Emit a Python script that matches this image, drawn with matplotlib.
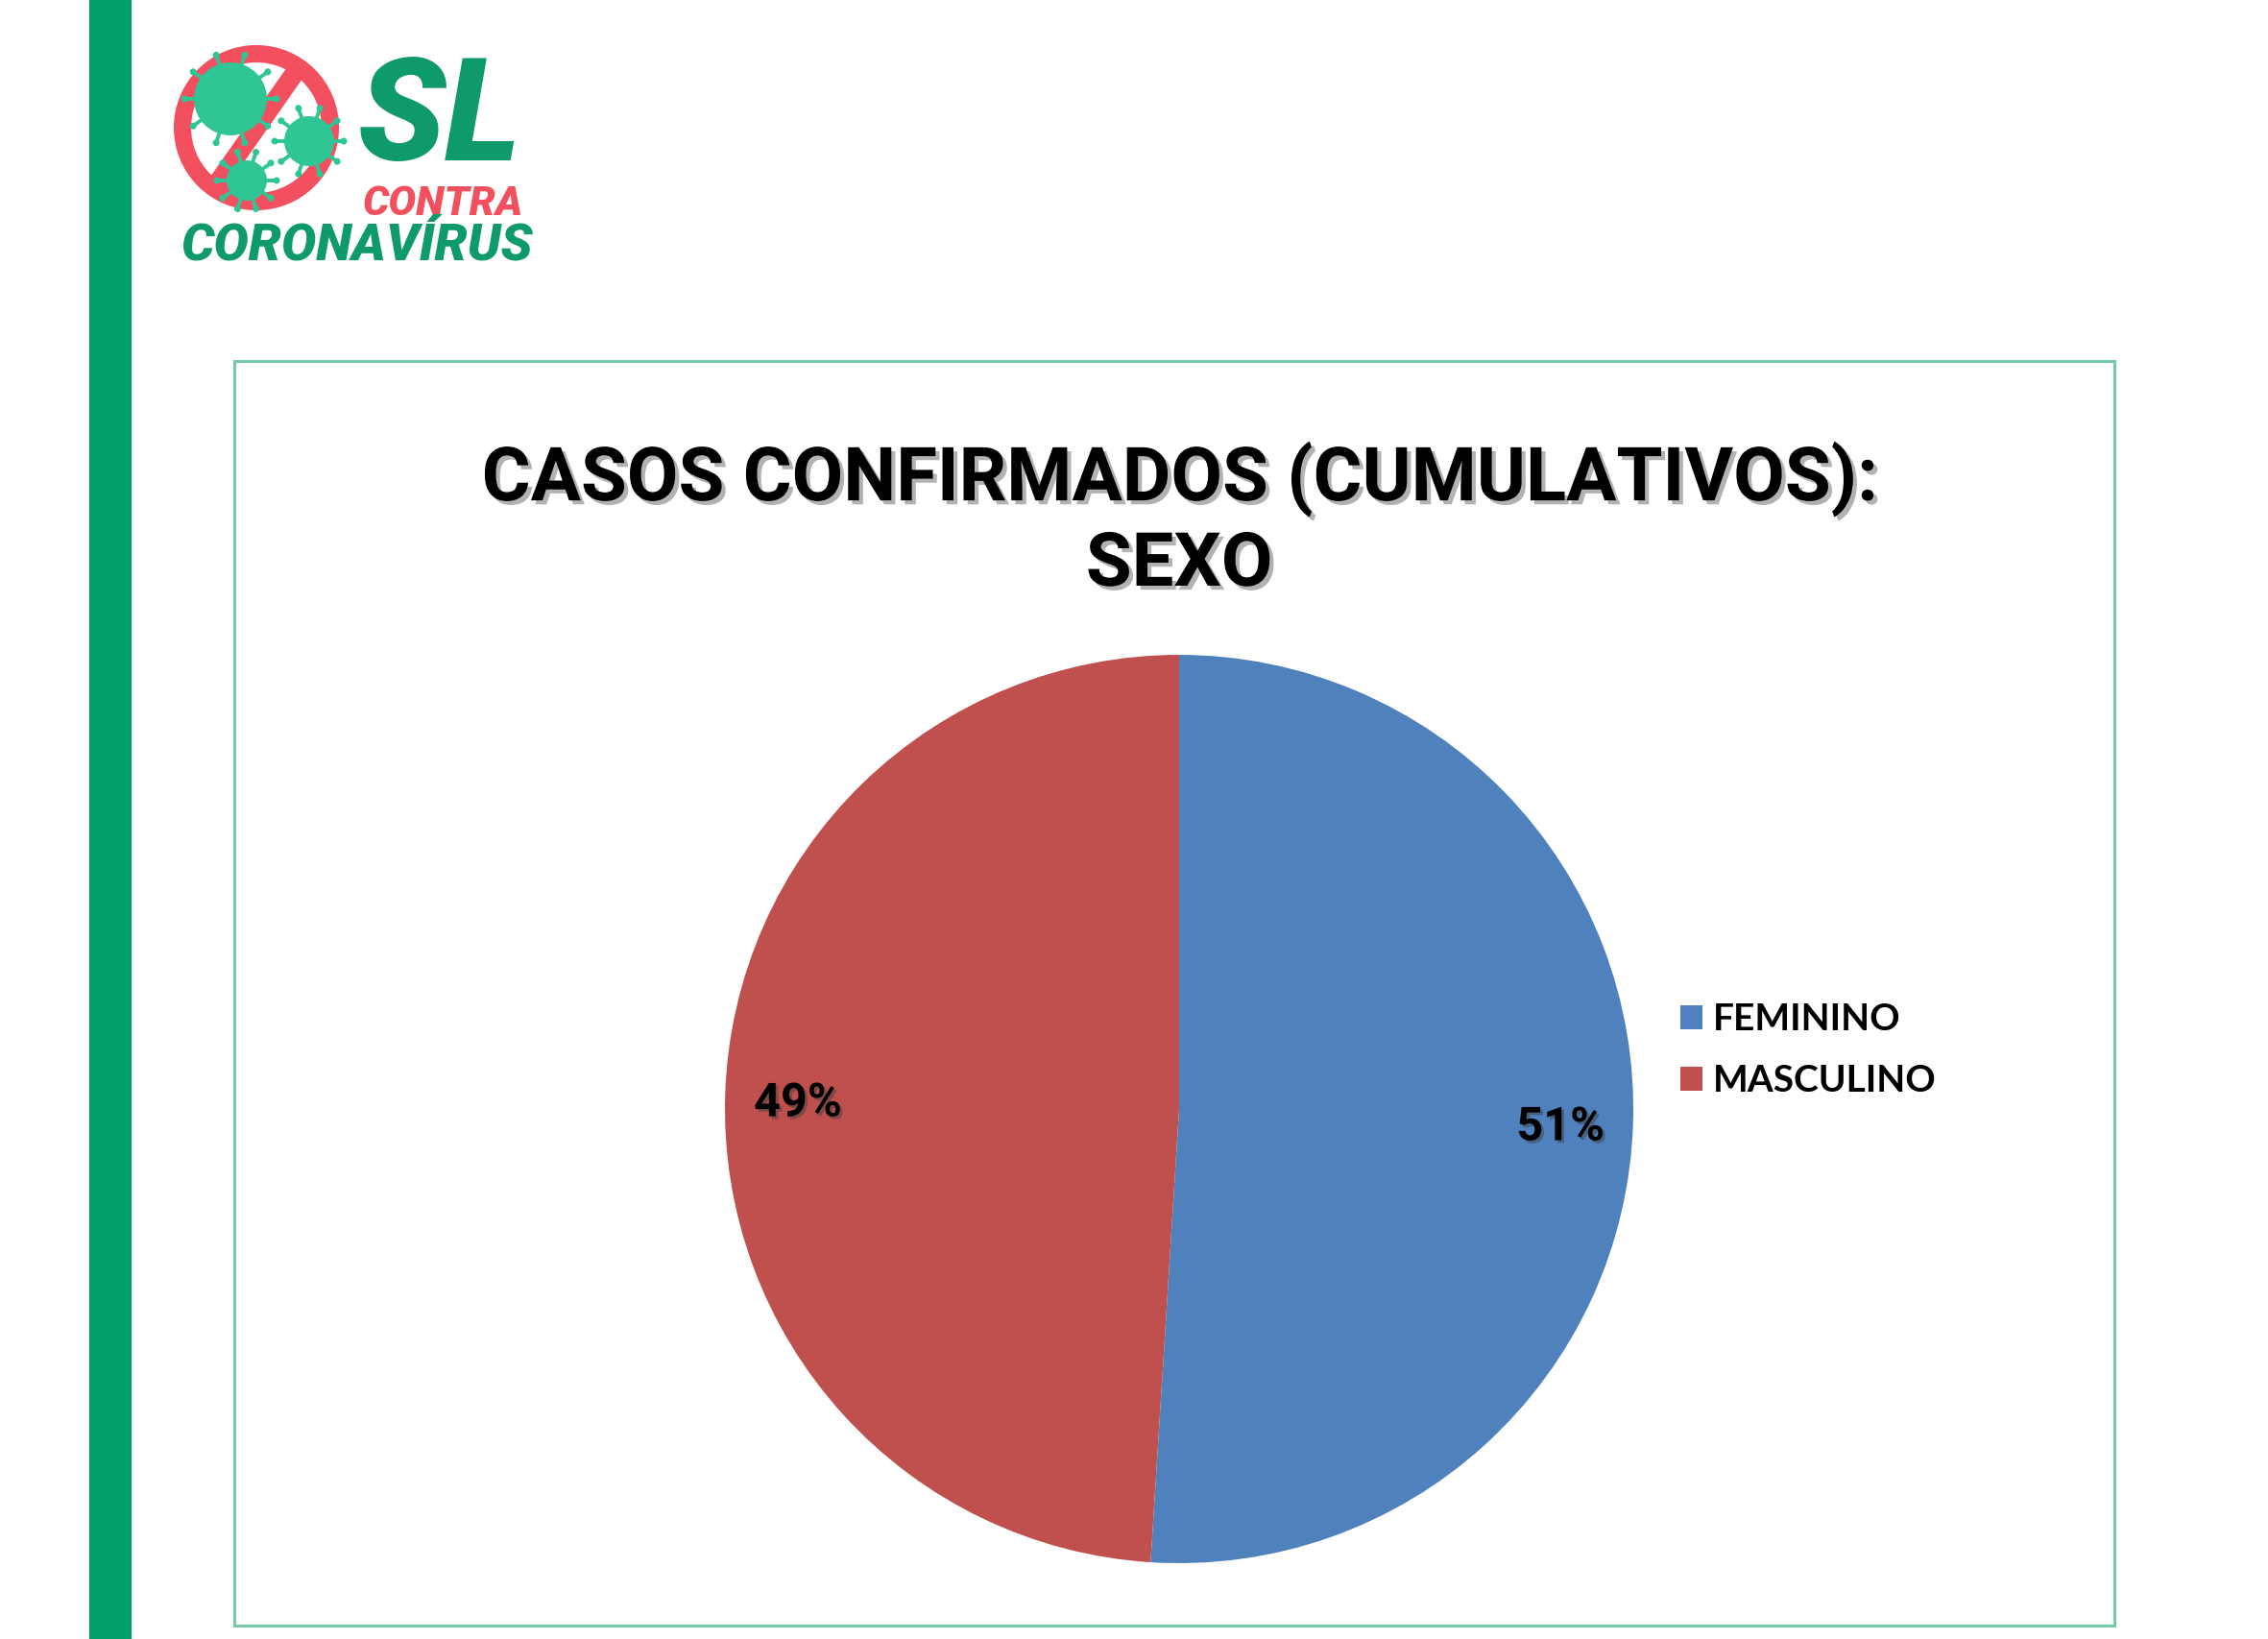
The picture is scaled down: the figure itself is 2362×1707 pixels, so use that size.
import numpy as np
import matplotlib
matplotlib.use("Agg")
import matplotlib.pyplot as plt
import matplotlib.patheffects as pe
import matplotlib.transforms as mtransforms
from matplotlib import font_manager
from matplotlib.patches import Circle, Rectangle, Polygon

# ── Données ───────────────────────────────────────────────────────────────────
categorias = ["FEMININO", "MASCULINO"]
percentuais = [51, 49]
cores = ["#4F81BD", "#C0504D"]
titulo_l1 = "CASOS CONFIRMADOS (CUMULATIVOS):"
titulo_l2 = "SEXO"

W, H = 2362, 1707
VERDE = "#009E6B"

# police étroite si disponible
dispo = {f.name for f in font_manager.fontManager.ttflist}
if "Liberation Sans Narrow" in dispo:
    TFONT = ["Liberation Sans Narrow", "DejaVu Sans"]
else:
    TFONT = ["Roboto", "DejaVu Sans"]

fig = plt.figure(figsize=(W / 100, H / 100), dpi=100)
fig.patch.set_facecolor("white")

# ── Calque de décor en pixels ────────────────────────────────────────────────
deco = fig.add_axes([0, 0, 1, 1])
deco.set_xlim(0, W)
deco.set_ylim(H, 0)
deco.axis("off")

deco.add_patch(Rectangle((93, 0), 44, H, color=VERDE, lw=0))
deco.add_patch(Rectangle((244, 376), 1958, 1317, fill=False,
                         edgecolor="#74C9A6", lw=2.2))

# logo
VIRUS = "#2FC595"
ROUGE = "#F2505F"
c0 = np.array([267, 133])
deco.add_patch(Circle(c0, 77, fill=False, edgecolor=ROUGE, lw=13))
ang = np.deg2rad(-55)
d = np.array([np.cos(ang), np.sin(ang)]) * 78
n = np.array([-np.sin(ang), np.cos(ang)]) * 10
deco.add_patch(Polygon([c0 + d + n, c0 + d - n, c0 - d - n, c0 - d + n],
                       closed=True, color=ROUGE, lw=0))
for vx, vy, r in [(240, 103, 38), (322, 147, 26), (257, 188, 21)]:
    for a in np.linspace(0, 2 * np.pi, 10, endpoint=False):
        x1, y1 = vx + r * np.cos(a), vy + r * np.sin(a)
        x2, y2 = vx + (r + 10) * np.cos(a), vy + (r + 10) * np.sin(a)
        deco.plot([x1, x2], [y1, y2], color=VIRUS, lw=2.8, solid_capstyle="round")
        deco.add_patch(Circle((x2, y2), 3.5, color=VIRUS, lw=0))
    deco.add_patch(Circle((vx, vy), r, color=VIRUS, lw=0))
LFONT = ["Roboto", "DejaVu Sans"]
deco.text(458, 126, "SL", fontsize=108, fontweight="heavy", style="italic",
          color="#0E9A6B", ha="center", va="center", family=LFONT)
deco.text(461, 212, "CONTRA", fontsize=31, fontweight="heavy", style="italic",
          color=ROUGE, ha="center", va="center", family=LFONT)
deco.text(372, 256, "CORONAVÍRUS", fontsize=39, fontweight="heavy", style="italic",
          color="#0E9A6B", ha="center", va="center", family=LFONT)

# ── Titre ─────────────────────────────────────────────────────────────────────
ombre = [pe.SimplePatchShadow(offset=(3, -3), shadow_rgbFace="#808080", alpha=0.6),
         pe.Normal()]
deco.text(1228, 499, titulo_l1, fontsize=56, fontweight="bold", ha="center",
          va="center", family=TFONT, path_effects=ombre)
deco.text(1228, 589, titulo_l2, fontsize=56, fontweight="bold", ha="center",
          va="center", family=TFONT, path_effects=ombre)

# ── Camembert ────────────────────────────────────────────────────────────────
cx, cy, R = 1228, 1155, 473
ax = fig.add_axes([(cx - R) / W, (H - cy - R) / H, 2 * R / W, 2 * R / H])
wedges, _, autotexts = ax.pie(percentuais, colors=cores, startangle=90,
                              counterclock=False, autopct="%.0f%%",
                              pctdistance=0.84, radius=1,
                              wedgeprops=dict(linewidth=0))
decal = mtransforms.ScaledTranslation(0, -0.07, fig.dpi_scale_trans)
for t in autotexts:
    t.set_fontsize(35)
    t.set_fontweight("bold")
    t.set_family(TFONT)
    t.set_transform(t.get_transform() + decal)
    t.set_path_effects([pe.SimplePatchShadow(offset=(2, -2), shadow_rgbFace="#404040",
                                             alpha=0.5), pe.Normal()])
ax.set_xlim(-1, 1)
ax.set_ylim(-1, 1)
ax.set_aspect("equal")
ax.axis("off")

leg = fig.legend(wedges, categorias, loc="upper left",
                 bbox_to_anchor=(1750 / W, 1 - 1044 / H), frameon=False,
                 fontsize=28, handlelength=0.6, handleheight=0.6,
                 handletextpad=0.26, labelspacing=0.75, borderpad=0,
                 borderaxespad=0)
for t in leg.get_texts():
    t.set_family(["Lato", "DejaVu Sans"])
    t.set_fontweight("bold")

fig.savefig("out.png", dpi=100)
